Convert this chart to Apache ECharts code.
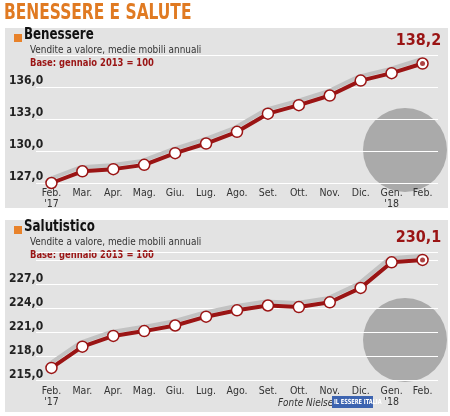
<!DOCTYPE html><html><head><meta charset="utf-8"><style>html,body{margin:0;padding:0;background:#fff}#c{width:450px;height:416px}</style>
<script src="https://cdn.jsdelivr.net/npm/echarts@6/dist/echarts.min.js"></script></head><body><div id="c"></div><script>
const months=['Feb.\n\'17','Mar.','Apr.','Mag.','Giu.','Lug.','Ago.','Set.','Ott.','Nov.','Dic.','Gen.\n\'18','Feb.'];
const benessere=[127.0,128.1,128.3,128.7,129.8,130.7,131.8,133.5,134.3,135.2,136.6,137.3,138.2];
const salutistico=[216.6,219.25,220.6,221.2,221.9,223.0,223.8,224.4,224.2,224.8,226.6,229.8,230.1];
const benTicks=[127,130,133,136];
const salTicks=[215,218,221,224,227];
const RED='#9a1414',FONT='"Liberation Sans Narrow","DejaVu Sans Condensed",sans-serif';
const chart=echarts.init(document.getElementById('c'));
function fmt(v){return v.toFixed(1).replace('.',',');}
function xa(i){return {type:'category',gridIndex:i,data:months,boundaryGap:true,axisLine:{show:false},axisTick:{show:false},
 axisLabel:{color:'#333',fontSize:10.5,fontFamily:FONT,margin:5,lineHeight:11,interval:0}};}
function ya(i,min,max,ticks){return {type:'value',gridIndex:i,min:min,max:max,interval:3,
 splitLine:{lineStyle:{color:'#fff',width:1.2}},axisLine:{show:false},axisTick:{show:false},
 axisLabel:{align:'left',margin:27,verticalAlign:'bottom',color:'#222',fontWeight:'bold',fontSize:12,fontFamily:FONT,
  formatter:v=>ticks.includes(v)?fmt(v):''}};}
function ser(i,data){const last=data.length-1;return [{type:'line',xAxisIndex:i,yAxisIndex:i,data:data.map((v,k)=>k===last?{value:v,label:{show:true,position:'top',distance:8,offset:[-4,0],formatter:p=>fmt(p.value),color:RED,fontWeight:'bold',fontSize:16,fontFamily:FONT}}:v),
 symbol:'circle',symbolSize:11,showSymbol:true,itemStyle:{color:'#fff',borderColor:RED,borderWidth:1.5},
 lineStyle:{color:RED,width:4,shadowColor:'#c2c2c2',shadowBlur:0,shadowOffsetX:-2,shadowOffsetY:-4},z:3},
 {type:'scatter',xAxisIndex:i,yAxisIndex:i,data:data.map((v,k)=>k===last?v:null),symbolSize:5,itemStyle:{color:RED},z:4,silent:true}];}
function head(y,title){return [
 {type:'rect',shape:{x:14,y:y+3,width:8,height:8},style:{fill:'#e8822a'}},
 {type:'text',x:24,y:y-3,scaleX:0.88,style:{text:title,font:'bold 15px '+FONT,fill:'#111'}},
 {type:'text',x:30,y:y+14,scaleX:0.9,style:{text:'Vendite a valore, medie mobili annuali',font:'11px '+FONT,fill:'#333'}},
 {type:'text',x:30,y:y+27,scaleX:0.85,style:{text:'Base: gennaio 2013 = 100',font:'bold 11px '+FONT,fill:RED}}];}
chart.setOption({animation:false,
 graphic:[
  {type:'text',x:4,y:2,scaleX:0.78,style:{text:'BENESSERE E SALUTE',font:'bold 22px '+FONT,fill:'#e07a22'}},
  {type:'rect',shape:{x:5,y:28,width:443,height:180},style:{fill:'#e3e3e3'},z:-10},
  {type:'rect',shape:{x:5,y:220,width:443,height:192},style:{fill:'#e3e3e3'},z:-10},
  ...head(31,'Benessere'),...head(223,'Salutistico'),
  {type:'circle',shape:{cx:405,cy:150,r:42},style:{fill:'#aaaaaa'},z:-5},
  {type:'circle',shape:{cx:405,cy:340,r:42},style:{fill:'#aaaaaa'},z:-5},
  {type:'text',x:278,y:398,scaleX:0.9,style:{text:'Fonte Nielsen',font:'italic 11px '+FONT,fill:'#333'}},
  {type:'rect',shape:{x:332,y:396,width:41,height:12},style:{fill:'#3d64b0'}},
  {type:'text',x:334,y:399,scaleX:0.8,style:{text:'IL ESSERE ITALIA',font:'bold 7px '+FONT,fill:'#fff'}}
 ],
 grid:[{left:36,right:12,top:55,height:128},{left:36,right:12,top:252.7,height:128}],
 xAxis:[xa(0),xa(1)],
 yAxis:[ya(0,127,139,benTicks),ya(1,215,231,salTicks)],
 series:[...ser(0,benessere),...ser(1,salutistico)]
});
</script></body></html>
